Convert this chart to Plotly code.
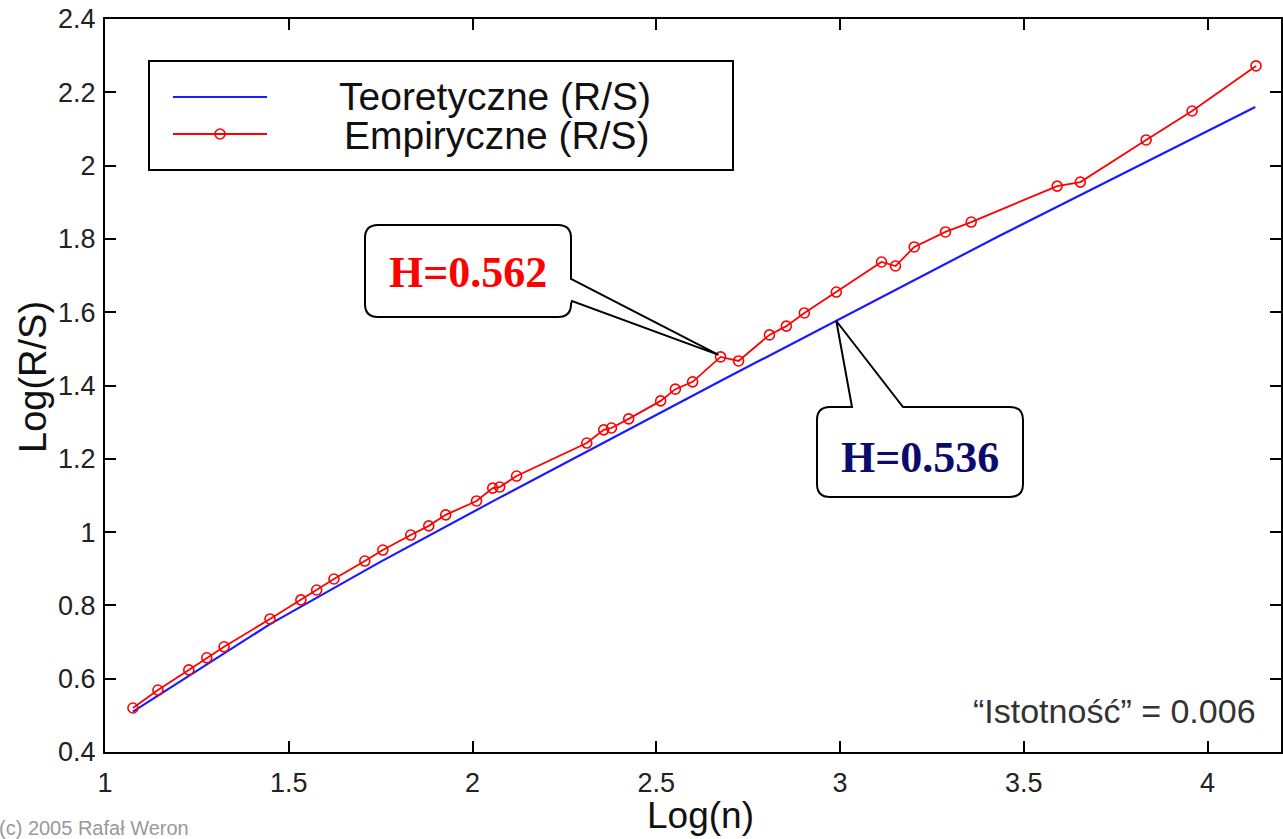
import plotly.graph_objects as go

# ---------------- data ----------------
x_emp = [1.076, 1.144, 1.228, 1.277, 1.324, 1.449, 1.533, 1.576, 1.623, 1.707,
         1.756, 1.832, 1.881, 1.927, 2.011, 2.055, 2.074, 2.120, 2.311, 2.357,
         2.378, 2.425, 2.512, 2.552, 2.599, 2.675, 2.724, 2.808, 2.854, 2.903,
         2.990, 3.113, 3.151, 3.202, 3.287, 3.357, 3.591, 3.654, 3.833, 3.958,
         4.132]
y_emp = [0.520, 0.569, 0.624, 0.657, 0.687, 0.763, 0.815, 0.842, 0.872, 0.921,
         0.951, 0.992, 1.017, 1.047, 1.085, 1.120, 1.123, 1.153, 1.243, 1.279,
         1.284, 1.309, 1.358, 1.390, 1.410, 1.478, 1.467, 1.538, 1.562, 1.598,
         1.655, 1.737, 1.726, 1.778, 1.819, 1.846, 1.944, 1.955, 2.070, 2.149,
         2.272]

x_theo = [1.076, 1.449, 1.748, 2.070, 2.680, 2.990, 3.162, 3.433, 4.130]
y_theo = [0.510, 0.749, 0.918, 1.092, 1.415, 1.576, 1.666, 1.808, 2.160]

x_ticks = [1, 1.5, 2, 2.5, 3, 3.5, 4]
x_ticklabels = ["1", "1.5", "2", "2.5", "3", "3.5", "4"]
y_ticks = [0.4, 0.6, 0.8, 1.0, 1.2, 1.4, 1.6, 1.8, 2.0, 2.2, 2.4]
y_ticklabels = ["0.4", "0.6", "0.8", "1", "1.2", "1.4", "1.6", "1.8", "2", "2.2", "2.4"]

name_theo = "Teoretyczne (R/S)"
name_emp = "Empiryczne (R/S)"
label_emp = "H=0.562"
label_theo = "H=0.536"
label_sig = "\u201cIstotność\u201d = 0.006"
copyright_text = "(c) 2005 Rafał Weron"

# ---------------- layout geometry ----------------
W, H = 1283, 839
ML, MR, MT, MB = 105, 2, 19, 87
PW, PH = W - ML - MR, H - MT - MB
XR = [1.0, 4.2]
YR = [0.4, 2.4]


def px2x(px):
    return XR[0] + (px - ML) / PW * (XR[1] - XR[0])


def py2y(py):
    return YR[1] - (py - MT) / PH * (YR[1] - YR[0])


def x2px(x):
    return ML + (x - XR[0]) / (XR[1] - XR[0]) * PW


def y2py(y):
    return MT + (YR[1] - y) / (YR[1] - YR[0]) * PH


def ppx(px):  # pixel -> paper x
    return (px - ML) / PW


def ppy(py):  # pixel -> paper y
    return 1 - (py - MT) / PH


def path_from_pixels(cmds):
    out = []
    for c in cmds:
        if c[0] == "Z":
            out.append("Z")
        elif c[0] == "Q":
            out.append("Q%.5f,%.5f %.5f,%.5f" % (px2x(c[1]), py2y(c[2]), px2x(c[3]), py2y(c[4])))
        else:
            out.append("%s%.5f,%.5f" % (c[0], px2x(c[1]), py2y(c[2])))
    return " ".join(out)


fig = go.Figure()

fig.add_trace(go.Scatter(
    x=x_theo, y=y_theo, mode="lines", name=name_theo,
    line=dict(color="#1a1aff", width=2.2), showlegend=False,
))
fig.add_trace(go.Scatter(
    x=x_emp, y=y_emp, mode="lines+markers", name=name_emp,
    line=dict(color="#ff0000", width=1.8),
    marker=dict(symbol="circle-open", size=10, color="#ff0000", line=dict(width=1.6, color="#ff0000")),
    showlegend=False,
))

shapes = []
annotations = []


def text_ann(x, y, text, font, xref="paper", yref="paper", **kw):
    d = dict(x=x, y=y, xref=xref, yref=yref, text=text, showarrow=False,
             xanchor="center", yanchor="middle", font=font)
    d.update(kw)
    return d


# -------- callout 1 (empirical) --------
tip1 = (x2px(x_emp[25]) - 2, y2py(y_emp[25]) - 2)
L, T, R, B, r = 365, 225, 571, 317, 13
cmds1 = [("M", L + r, T), ("L", R - r, T), ("Q", R, T, R, T + r), ("L", R, 279),
         ("L", tip1[0], tip1[1]), ("L", R + 1, 301), ("L", R, B - r), ("Q", R, B, R - r, B),
         ("L", L + r, B), ("Q", L, B, L, B - r), ("L", L, T + r), ("Q", L, T, L + r, T), ("Z",)]
shapes.append(dict(type="path", xref="x", yref="y", path=path_from_pixels(cmds1),
                   line=dict(color="black", width=2), fillcolor="white", layer="above"))
annotations.append(text_ann(px2x((L + R) / 2), py2y(272), "<b>%s</b>" % label_emp,
                            dict(family="Liberation Serif", size=44, color="#ff0000"), xref="x", yref="y"))

# -------- callout 2 (theoretical) --------
tip2 = (x2px(x_theo[5]), y2py(y_theo[5]))
L, T, R, B, r = 817, 407, 1023, 497, 13
cmds2 = [("M", L + r, T), ("L", 852, T), ("L", tip2[0], tip2[1]), ("L", 903, T),
         ("L", R - r, T), ("Q", R, T, R, T + r), ("L", R, B - r), ("Q", R, B, R - r, B),
         ("L", L + r, B), ("Q", L, B, L, B - r), ("L", L, T + r), ("Q", L, T, L + r, T), ("Z",)]
shapes.append(dict(type="path", xref="x", yref="y", path=path_from_pixels(cmds2),
                   line=dict(color="black", width=2), fillcolor="white", layer="above"))
annotations.append(text_ann(px2x((L + R) / 2), py2y(457), "<b>%s</b>" % label_theo,
                            dict(family="Liberation Serif", size=44, color="#0b0b6e"), xref="x", yref="y"))

# -------- manual legend --------
shapes.append(dict(type="rect", xref="paper", yref="paper", x0=ppx(149), x1=ppx(733), y0=ppy(170), y1=ppy(61),
                   line=dict(color="black", width=2), fillcolor="white", layer="above"))
shapes.append(dict(type="line", xref="paper", yref="paper", x0=ppx(173), x1=ppx(267), y0=ppy(97), y1=ppy(97),
                   line=dict(color="#1a1aff", width=2.2), layer="above"))
shapes.append(dict(type="line", xref="paper", yref="paper", x0=ppx(173), x1=ppx(267), y0=ppy(134), y1=ppy(134),
                   line=dict(color="#ff0000", width=1.8), layer="above"))
shapes.append(dict(type="circle", xref="paper", yref="paper", x0=ppx(215), x1=ppx(225), y0=ppy(139), y1=ppy(129),
                   line=dict(color="#ff0000", width=1.6), fillcolor="rgba(0,0,0,0)", layer="above"))
annotations.append(text_ann(ppx(495), ppy(97), name_theo, dict(family="Liberation Sans", size=39, color="#111")))
annotations.append(text_ann(ppx(497), ppy(135), name_emp, dict(family="Liberation Sans", size=39, color="#111")))

# -------- other texts --------
annotations.append(text_ann(ppx(1258), ppy(711), label_sig, dict(family="Liberation Sans", size=34, color="#333"),
                            xanchor="right"))
annotations.append(text_ann(ppx(33), ppy(377), "Log(R/S)", dict(family="Liberation Sans", size=38, color="#111"),
                            textangle=-90))
annotations.append(text_ann(ppx(700), ppy(815), "Log(n)", dict(family="Liberation Sans", size=37, color="#111")))
annotations.append(text_ann(ppx(-3), ppy(828), copyright_text, dict(family="Liberation Sans", size=20, color="#999"),
                            xanchor="left"))

axis_common = dict(showgrid=False, zeroline=False, showline=True, linecolor="black", linewidth=2,
                   mirror="ticks", ticks="inside", ticklen=11, tickwidth=2, tickcolor="black",
                   tickfont=dict(family="Liberation Sans", size=27, color="#222"))

fig.update_layout(
    width=W, height=H,
    margin=dict(l=ML, r=MR, t=MT, b=MB, autoexpand=False),
    paper_bgcolor="white", plot_bgcolor="white",
    xaxis=dict(range=XR, tickvals=x_ticks, ticktext=x_ticklabels, ticklabelstandoff=6, **axis_common),
    yaxis=dict(range=YR, tickvals=y_ticks, ticktext=y_ticklabels, ticklabelstandoff=2, **axis_common),
    shapes=shapes, annotations=annotations, showlegend=False,
)

fig.write_html("out.html")
